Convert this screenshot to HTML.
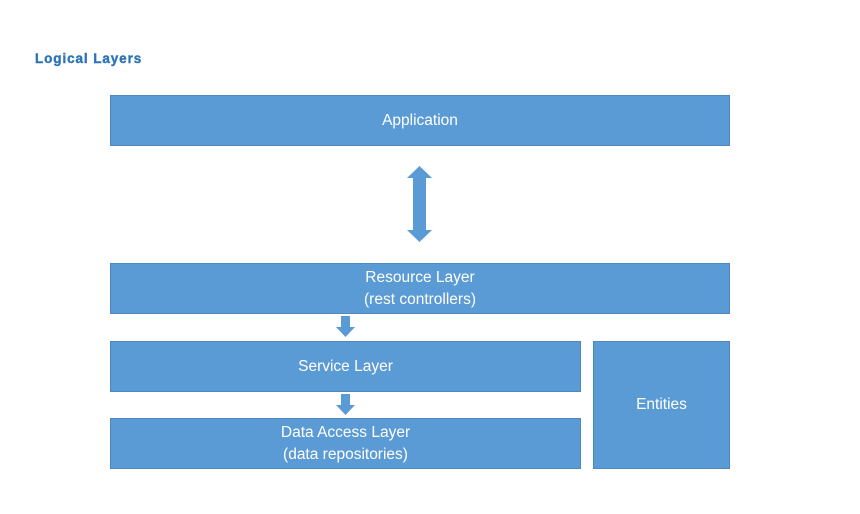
<!DOCTYPE html>
<html><head><style>
body{margin:0;width:860px;height:514px;background:#fff;position:relative;overflow:hidden;font-family:"Liberation Sans",sans-serif}
.b{position:absolute;background:#5B9BD5;border:1px solid #4f88bf;box-sizing:border-box;color:#fff;font-size:15.5px;display:flex;align-items:center;justify-content:center;text-align:center;line-height:22px}
.t{position:absolute;left:35px;top:51px;color:#2E75B6;font-weight:900;font-size:13.5px;letter-spacing:0.9px;-webkit-text-stroke:0.4px #2E75B6}
</style></head><body>
<div class="t">Logical Layers</div>
<div class="b" style="left:110px;top:95px;width:620px;height:51px">Application</div>
<div class="b" style="left:110px;top:263px;width:620px;height:51px">Resource Layer<br>(rest controllers)</div>
<div class="b" style="left:110px;top:341px;width:471px;height:51px">Service Layer</div>
<div class="b" style="left:110px;top:418px;width:471px;height:51px">Data Access Layer<br>(data repositories)</div>
<div class="b" style="left:593px;top:341px;width:137px;height:128px">Entities</div>
<svg width="860" height="514" style="position:absolute;left:0;top:0">
<polygon fill="#5B9BD5" points="419.5,166 432,178 426,178 426,230 432,230 419.5,242 407,230 413,230 413,178 407,178"/>
<polygon fill="#5B9BD5" points="341,316 350,316 350,327 355,327 345.5,337 336,327 341,327"/>
<polygon fill="#5B9BD5" points="341,394 350,394 350,405 355,405 345.5,415 336,405 341,405"/>
</svg>
</body></html>
